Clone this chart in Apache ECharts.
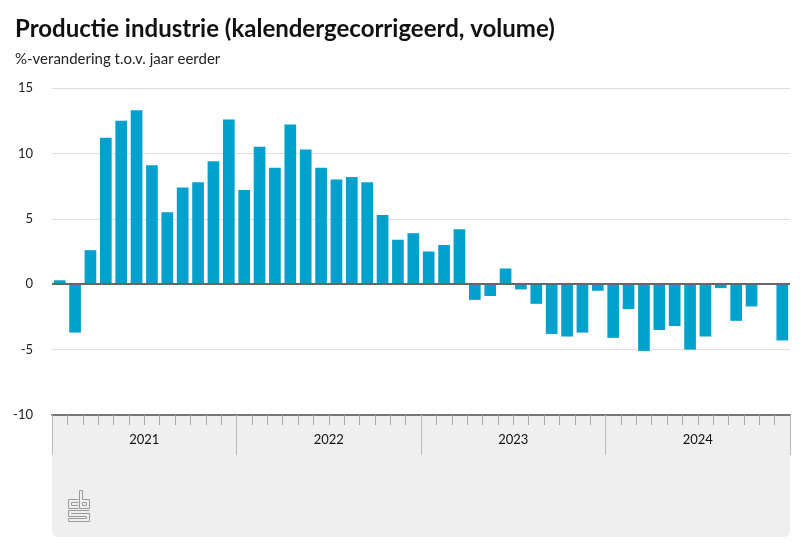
<!DOCTYPE html>
<html>
<head>
<meta charset="utf-8">
<script src="https://cdn.jsdelivr.net/npm/echarts@6/dist/echarts.min.js"></script>
<style>html,body{margin:0;padding:0;background:#fff}#c{width:807px;height:556px}</style>
</head>
<body>
<div id="c"></div>
<script>
const years = ['2021', '2022', '2023', '2024'];
const months = [];
years.forEach(y => { for (let m = 1; m <= 12; m++) months.push(y + '-' + (m < 10 ? '0' + m : m)); });
const values = [
  0.3, -3.7, 2.6, 11.2, 12.5, 13.3, 9.1, 5.5, 7.4, 7.8, 9.4, 12.6,
  7.2, 10.5, 8.9, 12.2, 10.3, 8.9, 8.0, 8.2, 7.8, 5.3, 3.4, 3.9,
  2.5, 3.0, 4.2, -1.2, -0.9, 1.2, -0.4, -1.5, -3.8, -4.0, -3.7, -0.5,
  -4.1, -1.9, -5.1, -3.5, -3.2, -5.0, -4.0, -0.3, -2.8, -1.7, 0, -4.3
];
const yTicks = [-10, -5, 0, 5, 10, 15];
const titleText = 'Productie industrie (kalendergecorrigeerd, volume)';
const subtitleText = '%-verandering t.o.v. jaar eerder';

const chart = echarts.init(document.getElementById('c'), null, {renderer: 'canvas'});
const logoColor = '#9a9a9a';
function pl(points) {
  return {type: 'polyline', shape: {points: points}, style: {stroke: logoColor, lineWidth: 1, fill: null}, z: 10};
}
chart.setOption({
  animation: false,
  backgroundColor: '#fff',
  title: [
    {text: titleText, left: 15, top: 17, padding: 0, textStyle: {fontFamily: 'Lato', fontWeight: 'bold', fontSize: 24, color: '#111'}},
    {text: subtitleText, left: 15, top: 52, padding: 0, textStyle: {fontFamily: 'Lato', fontWeight: 'normal', fontSize: 15, color: '#222'}}
  ],
  graphic: [
    {type: 'rect', shape: {x: 52, y: 415, width: 738, height: 122, r: [0, 0, 6, 6]}, style: {fill: '#efefef'}, z: -10},
    pl([[78.5, 499.5], [68.5, 499.5], [68.5, 508.5], [78.5, 508.5]]),
    pl([[78.5, 502.5], [71.5, 502.5], [71.5, 505.5], [78.5, 505.5]]),
    pl([[79.5, 490.5], [79.5, 508.5], [89.5, 508.5], [89.5, 499.5], [82.5, 499.5], [82.5, 490.5], [79.5, 490.5]]),
    pl([[82.5, 502.5], [86.5, 502.5], [86.5, 505.5], [82.5, 505.5], [82.5, 502.5]]),
    pl([[89.5, 510.5], [68.5, 510.5], [68.5, 516.5], [86.5, 516.5], [86.5, 518.5], [68.5, 518.5], [68.5, 521.5], [89.5, 521.5], [89.5, 513.5], [71.5, 513.5], [71.5, 513.5], [89.5, 513.5]])
  ],
  grid: {left: 52, right: 17, top: 88, bottom: 141, containLabel: false},
  xAxis: [
    {
      type: 'category', data: months, position: 'bottom',
      axisLine: {onZero: false, show: true, lineStyle: {color: '#777', width: 2}},
      axisTick: {show: true, interval: 0, length: 10, lineStyle: {color: '#aaa'}},
      axisLabel: {show: false},
      splitLine: {show: false}
    },
    {
      type: 'category', data: years, position: 'bottom',
      axisLine: {show: false, onZero: false},
      axisTick: {show: true, length: 40, lineStyle: {color: '#bbb'}},
      axisLabel: {show: true, margin: 18, fontFamily: 'Lato', fontSize: 13, color: '#111'},
      splitLine: {show: false}
    }
  ],
  yAxis: {
    type: 'value', min: -10, max: 15, interval: 5,
    axisLine: {show: false}, axisTick: {show: false},
    axisLabel: {margin: 19, fontFamily: 'Lato', fontSize: 13, color: '#222',
      formatter: v => yTicks.indexOf(v) >= 0 ? String(v) : ''},
    splitLine: {lineStyle: {color: '#dedede', width: 1}}
  },
  series: [{
    type: 'bar', data: values, xAxisIndex: 0,
    barCategoryGap: '24%',
    itemStyle: {color: '#00a1cd'},
    markLine: {
      silent: true, symbol: ['none', 'none'], label: {show: false},
      lineStyle: {color: '#666', width: 2, type: 'solid'},
      data: [{yAxis: 0}]
    }
  }]
});
</script>
</body>
</html>
